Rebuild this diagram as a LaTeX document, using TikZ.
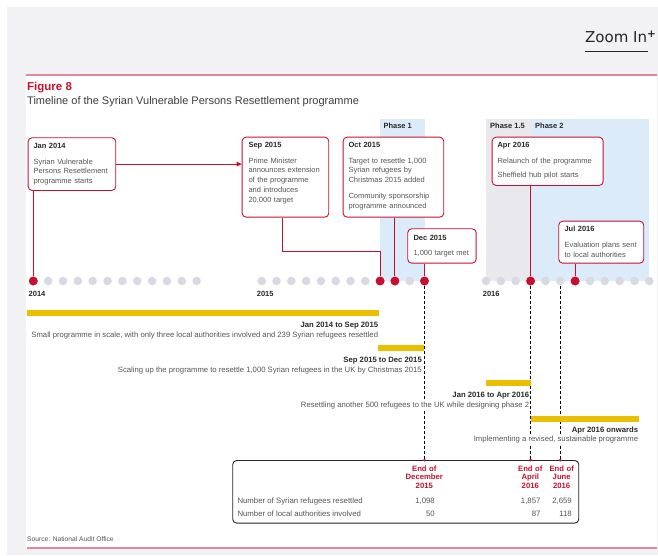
\documentclass[tikz,border=0pt]{standalone}
\usepackage{fontspec}
\setmainfont{Liberation Sans}
\newfontfamily\zoomfont{DejaVu Sans}
\usetikzlibrary{arrows.meta,calc}
\definecolor{crim}{RGB}{200,16,46}
\definecolor{pinkline}{RGB}{224,137,153}
\definecolor{panelgrey}{RGB}{242,242,244}
\definecolor{dotgrey}{RGB}{217,217,225}
\definecolor{phaseblue}{RGB}{220,235,249}
\definecolor{phasegrey}{RGB}{232,232,237}
\definecolor{gold}{RGB}{236,190,0}
\definecolor{darktext}{RGB}{40,40,40}
\definecolor{bodytext}{RGB}{85,85,85}
\newcommand\evhd[1]{{\color{darktext}\bfseries #1}}
\tikzset{
 evbox/.style={draw=crim, line width=0.9pt, fill=white, rounded corners=4pt, inner sep=0pt, anchor=north west},
 evtxt/.style={anchor=base west, inner sep=0pt, text width=110pt, align=left, font=\fontsize{7.5}{9.8}\selectfont, text=bodytext},
 gdot/.style={circle, fill=dotgrey, inner sep=0pt, minimum size=8.6pt},
 rdot/.style={circle, fill=crim, inner sep=0pt, minimum size=9pt},
 conn/.style={draw=crim, line width=0.9pt},
 vdash/.style={draw=black, line width=0.8pt, dash pattern=on 3pt off 2pt},
 boldlbl/.style={anchor=base west, inner sep=0pt, font=\bfseries\fontsize{7.5}{9}\selectfont, text=darktext},
 barlbl/.style={anchor=base east, fill=white, inner xsep=0.5pt, inner ysep=1.5pt, font=\bfseries\fontsize{7.7}{9}\selectfont, text=darktext},
 bartxt/.style={anchor=base east, fill=white, inner xsep=0.5pt, inner ysep=1.5pt, font=\fontsize{7.7}{9}\selectfont, text=bodytext},
 thead/.style={anchor=base, inner sep=0pt, text width=60pt, align=center, font=\bfseries\fontsize{7.7}{8.8}\selectfont, text=crim},
 tcell/.style={anchor=base east, inner sep=0pt, font=\fontsize{7.8}{9}\selectfont, text=bodytext},
 trow/.style={anchor=base west, inner sep=0pt, font=\fontsize{7.8}{9}\selectfont, text=bodytext},
}
\begin{document}
\begin{tikzpicture}[x=1pt,y=-1pt]
\useasboundingbox (0,0) rectangle (658,555);
% frame
\fill[white] (0,0) rectangle (658,555);
\fill[panelgrey] (7,7) rectangle (658,555);
\fill[white] (26,75) rectangle (657,548);
\draw[pinkline, line width=2pt] (26,75.3) -- (657,75.3);
\draw[pinkline, line width=2pt] (27,547.7) -- (657,547.7);
% zoom in
\node[anchor=base west, inner sep=0pt, font=\zoomfont\fontsize{15}{15}\selectfont, text=black!85] (zoomin) at (585,42.3) {Zoom In\textsuperscript{\textbf{+}}};
\draw[line width=1pt, black!85] (585,51.7) -- (647.7,51.7);
% titles
\node[anchor=base west, inner sep=0pt, font=\bfseries\fontsize{11.5}{12}\selectfont, text=crim] (fig) at (27,90) {Figure 8};
\node[anchor=base west, inner sep=0pt, font=\fontsize{11}{12}\selectfont, text=darktext!90] (sub) at (27,104.8) {Timeline of the Syrian Vulnerable Persons Resettlement programme};
% phases
\fill[phaseblue] (380,119) rectangle (425,281);
\fill[phasegrey] (486,119) rectangle (531.7,281);
\fill[phaseblue] (531.7,119) rectangle (649,281);
\node[boldlbl] (ph1) at (383.3,128.7) {Phase 1};
\node[boldlbl] (ph15) at (490,128.7) {Phase 1.5};
\node[boldlbl] (ph2) at (535,128.7) {Phase 2};
% dots
\foreach \m in {1,...,12} {
  \node[gdot] (d14-\m) at ({33.3+(\m-1)*14.85},281) {};
  \node[gdot] (d15-\m) at ({261.7+(\m-1)*14.8},281) {};
  \node[gdot] (d16-\m) at ({486+(\m-1)*14.85},281) {};
}
\node[rdot] (r14-1) at (d14-1) {};
\node[rdot] (r15-9) at (d15-9) {};
\node[rdot] (r15-10) at (d15-10) {};
\node[rdot] (r15-12) at (d15-12) {};
\node[rdot] (r16-4) at (d16-4) {};
\node[rdot] (r16-7) at (d16-7) {};
\node[boldlbl] (y14) at (28.5,296) {2014};
\node[boldlbl] (y15) at (256.7,296) {2015};
\node[boldlbl] (y16) at (482.7,296) {2016};
% boxes
\node[evbox, minimum width=87.6pt, minimum height=52.7pt] (jan14) at (27.7,137.3) {};
\node[evbox, minimum width=86.6pt, minimum height=80pt] (sep15) at (241.7,136.7) {};
\node[evbox, minimum width=100.6pt, minimum height=80pt] (oct15) at (342.7,136.7) {};
\node[evbox, minimum width=68.4pt, minimum height=34.4pt] (dec15) at (407.3,228.3) {};
\node[evbox, minimum width=111pt, minimum height=48.3pt] (apr16) at (491.7,136.7) {};
\node[evbox, minimum width=85pt, minimum height=42pt] (jul16) at (558.3,220.7) {};
\node[evtxt] (jan14t) at (33.3,148.7) {\evhd{Jan 2014}\\[5.5pt] Syrian Vulnerable\\ Persons Resettlement\\ programme starts};
\node[evtxt] (sep15t) at (248.3,147.7) {\evhd{Sep 2015}\\[5.5pt] Prime Minister\\ announces extension\\ of the programme\\ and introduces\\ 20,000 target};
\node[evtxt] (oct15t) at (348.3,147.7) {\evhd{Oct 2015}\\[5.5pt] Target to resettle 1,000\\ Syrian refugees by\\ Christmas 2015 added\\[6.4pt] Community sponsorship\\ programme announced};
\node[evtxt] (dec15t) at (413.3,240) {\evhd{Dec 2015}\\[5.2pt] 1,000 target met};
\node[evtxt] (apr16t) at (497.3,147.7) {\evhd{Apr 2016}\\[5.5pt] Relaunch of the programme\\[4.5pt] Sheffield hub pilot starts};
\node[evtxt] (jul16t) at (564.3,231.7) {\evhd{Jul 2016}\\[5.8pt] Evaluation plans sent\\ to local authorities};
% connectors
\draw[conn, -{Triangle[length=5pt,width=4.5pt]}] (jan14.east) -- (jan14.east -| sep15.west);
\draw[conn] (r14-1 |- jan14.south) -- (r14-1);
\draw[conn] ([xshift=-3.3pt]sep15.south) -- ++(0,34) -| (r15-9);
\draw[conn] (r15-10 |- oct15.south) -- (r15-10);
\draw[conn] (r15-12 |- dec15.south) -- (r15-12);
\draw[conn] (r16-4 |- apr16.south) -- (r16-4);
\draw[conn] (r16-7 |- jul16.south) -- (r16-7);
% table
\node[draw=black!85, line width=0.9pt, rounded corners=4pt, minimum width=346pt, minimum height=62.7pt, anchor=north west, inner sep=0pt] (tbl) at (232.3,460) {};
\coordinate (e1) at (r15-12 |- tbl.north);
\coordinate (e2) at (r16-4 |- tbl.north);
\coordinate (e3) at (d16-6 |- tbl.north);
\draw[vdash] (r15-12.south) -- (e1);
\draw[vdash] (r16-4.south) -- (e2);
\draw[vdash] (d16-6.south) -- (e3);
\fill[crim] (e1) circle (1.5pt);
\fill[crim] (e2) circle (1.5pt);
\fill[crim] (e3) circle (1.5pt);
% bars
\fill[gold] (27,310) rectangle (379.3,315.7);
\fill[gold] (378.3,345) rectangle (424.3,350.7);
\fill[gold] (486,380) rectangle (531.3,385.7);
\fill[gold] (531.3,416) rectangle (639,421.7);
\node[barlbl] (b1h) at (378.8,327) {Jan 2014 to Sep 2015};
\node[bartxt] (b1t) at (378.8,337) {Small programme in scale, with only three local authorities involved and 239 Syrian refugees resettled};
\node[barlbl] (b2h) at (422.5,362) {Sep 2015 to Dec 2015};
\node[bartxt] (b2t) at (422.5,372) {Scaling up the programme to resettle 1,000 Syrian refugees in the UK by Christmas 2015};
\node[barlbl] (b3h) at (529.8,397) {Jan 2016 to Apr 2016};
\node[bartxt] (b3t) at (529.8,407) {Resettling another 500 refugees to the UK while designing phase 2};
\node[barlbl] (b4h) at (638.8,432.5) {Apr 2016 onwards};
\node[bartxt] (b4t) at (638.8,441.5) {Implementing a revised, sustainable programme};
% table content
\node[thead] (h1) at (424.3,471) {End of\\December\\2015};
\node[thead] (h2) at (530.3,471) {End of\\April\\2016};
\node[thead] (h3) at (561.7,471) {End of\\June\\2016};
\node[trow] (r1) at (237.3,503.4) {Number of Syrian refugees resettled};
\node[trow] (r2) at (237.3,516.7) {Number of local authorities involved};
\node[tcell] (c11) at (435,503.4) {1,098};
\node[tcell] (c12) at (540.7,503.4) {1,857};
\node[tcell] (c13) at (572,503.4) {2,659};
\node[tcell] (c21) at (435,516.7) {50};
\node[tcell] (c22) at (540.7,516.7) {87};
\node[tcell] (c23) at (572,516.7) {118};
% source
\node[anchor=base west, inner sep=0pt, font=\fontsize{6.7}{7}\selectfont, text=bodytext] (src) at (27,541.5) {Source: National Audit Office};
\end{tikzpicture}
\end{document}
